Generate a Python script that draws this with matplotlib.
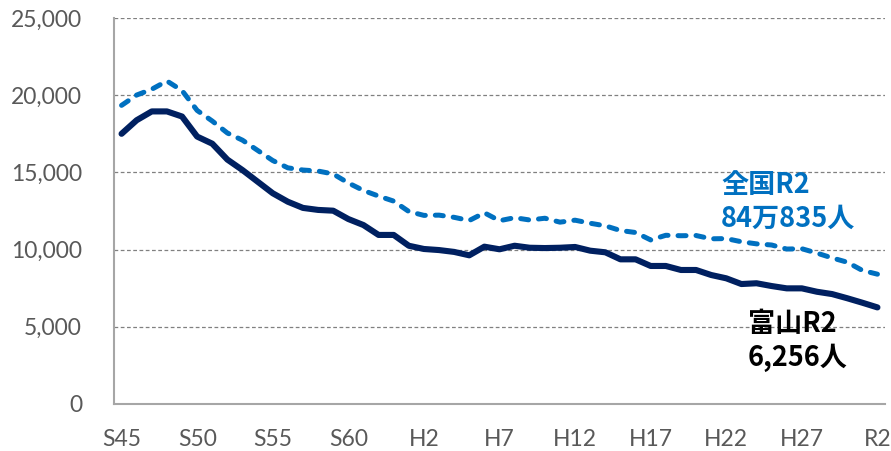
import matplotlib
matplotlib.use("Agg")
import matplotlib.pyplot as plt
from matplotlib.ticker import FuncFormatter, MultipleLocator

# Years S45 (1970) .. R2 (2020)
years = list(range(1970, 2021))

# Toyama births
toyama = [17500, 18380, 18950, 18950, 18620, 17320, 16860, 15830, 15150, 14400,
          13650, 13100, 12700, 12570, 12520, 11980, 11590, 10950, 10950, 10250,
          10040, 9970, 9850, 9630, 10190, 10020, 10250, 10120, 10100, 10120,
          10170, 9930, 9825, 9370, 9370, 8940, 8940, 8680, 8680, 8355,
          8140, 7770, 7820, 7640, 7490, 7490, 7270, 7120, 6850, 6560,
          6256]

# National births (scaled 1/100)
national = [19342, 20010, 20387, 20920, 20300, 19014, 18326, 17551, 17086, 16426,
            15769, 15295, 15154, 15087, 14898, 14316, 13829, 13467, 13140, 12468,
            12216, 12232, 12090, 11883, 12383, 11871, 12066, 11917, 12031, 11777,
            11905, 11707, 11539, 11236, 11107, 10625, 10927, 10898, 10912, 10700,
            10713, 10508, 10372, 10298, 10035, 10057, 9772, 9461, 9184, 8652,
            8408]

tick_pos = [0, 5, 10, 15, 20, 25, 30, 35, 40, 45, 50]
tick_labels = ["S45", "S50", "S55", "S60", "H2", "H7", "H12", "H17", "H22", "H27", "R2"]

label_national = "全国R2\n84万835人"
label_toyama = "富山R2\n6,256人"

fig = plt.figure(figsize=(8.91, 4.51), dpi=100)
ax = fig.add_axes([114/891, 1 - 404/451, (885 - 114)/891, (404 - 18)/451])

x = list(range(len(years)))
ax.plot(x, national, color="#0070C0", lw=3.6, linestyle=(0, (1.6, 2.0)),
        dash_capstyle="round", solid_capstyle="round", zorder=3)
ax.plot(x, toyama, color="#002060", lw=4.4, solid_capstyle="round",
        solid_joinstyle="round", zorder=4)

ax.set_xlim(-0.5, 50.5)
ax.set_ylim(0, 25000)
ax.yaxis.set_major_locator(MultipleLocator(5000))
ax.yaxis.set_major_formatter(FuncFormatter(lambda v, p: f"{int(v):,}"))
ax.set_xticks(tick_pos)
ax.set_xticklabels(tick_labels)

for yv in range(5000, 25001, 5000):
    ax.axhline(yv, color="#808080", lw=0.9, linestyle=(0, (3, 2)), zorder=1)

for s in ["top", "right"]:
    ax.spines[s].set_visible(False)
for s in ["left", "bottom"]:
    ax.spines[s].set_color("#A6A6A6")
    ax.spines[s].set_linewidth(1.5)

ax.tick_params(axis="both", length=0, colors="#595959", labelsize=16.5)
ax.tick_params(axis="y", pad=23)
ax.tick_params(axis="x", pad=18)
for lab in ax.get_xticklabels() + ax.get_yticklabels():
    lab.set_fontfamily("Lato")

jp = ["Noto Sans CJK JP", "DejaVu Sans"]
ax.text(721/891, 1 - 202/451, label_national, transform=fig.transFigure,
        fontsize=19.5, fontweight="bold", color="#0070C0", family=jp,
        ha="left", va="center", linespacing=1.25)
ax.text(748/891, 1 - 341/451, label_toyama, transform=fig.transFigure,
        fontsize=19.5, fontweight="bold", color="black", family=jp,
        ha="left", va="center", linespacing=1.25)

fig.savefig("out.png", dpi=100)
